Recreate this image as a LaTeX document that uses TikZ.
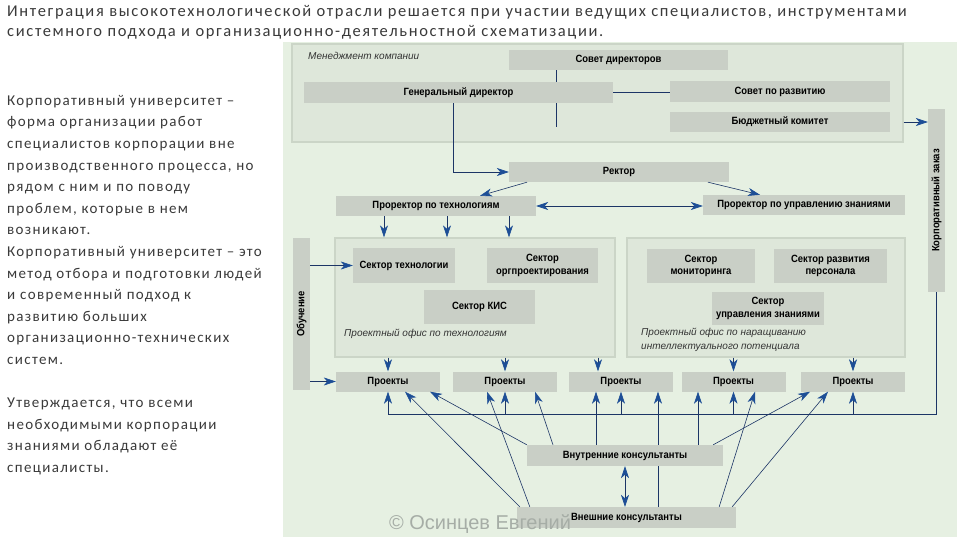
\documentclass[tikz,border=0pt]{standalone}
\usepackage{fontspec}
\setmainfont{Carlito}
\newfontfamily\txtfont[LetterSpace=9]{Carlito}
\newfontfamily\ttlfont[LetterSpace=10]{Carlito}
\newfontfamily\boxfont[FakeStretch=0.9]{Liberation Sans}
\newfontfamily\lblfont{Liberation Sans}
\newfontfamily\wmfont{Liberation Sans}
\usetikzlibrary{arrows.meta}
\definecolor{panel}{HTML}{E6F0E2}
\definecolor{boxg}{HTML}{C9CFC6}
\definecolor{offg}{HTML}{DEE7DA}
\definecolor{offline}{HTML}{CBD5C7}
\definecolor{linec}{HTML}{1C3566}
\definecolor{tipc}{HTML}{1D4E96}
\definecolor{labc}{HTML}{333333}
\definecolor{textc}{HTML}{3A3A3A}
\definecolor{wmc}{HTML}{A6ADA6}
\begin{document}
\begin{tikzpicture}[x=1pt,y=-1pt]
 \tikzstyle{b} = [fill=boxg, inner sep=0pt, align=center, font=\boxfont\bfseries\fontsize{10.5}{12.5}\selectfont]
    \tikzstyle{of} = [fill=offg, draw=offline, line width=1.2pt, inner sep=0pt]
    \tikzstyle{ln} = [draw=linec, line width=.6pt]
    \tikzstyle{arr} = [ln, -{Stealth[length=12pt,width=8pt,inset=3.5pt,color=tipc]}]
    \tikzstyle{darr} = [ln, {Stealth[length=12pt,width=8pt,inset=3.5pt,color=tipc]}-{Stealth[length=12pt,width=8pt,inset=3.5pt,color=tipc]}]
    \tikzstyle{lbl} = [inner sep=0pt, align=left, text=labc, font=\lblfont\itshape\fontsize{10}{13.5}\selectfont]
    %%
    \useasboundingbox (0,0) rectangle (960,540);
    \fill[white] (0,0) rectangle (960,540);
    \fill[panel] (283,42) rectangle (957,537);

    % text
        \node[anchor=north west, inner sep=0pt, align=left, text=textc, font=\ttlfont\fontsize{16.5}{20.5}\selectfont] (title) at (7,5)
        {Интеграция высокотехнологической отрасли решается при участии ведущих специалистов, инструментами\\
         системного подхода и организационно-деятельностной схематизации.};
        \node[anchor=north west, inner sep=0pt, align=left, text=textc, font=\txtfont\fontsize{15}{21.6}\selectfont] (txt) at (7,95)
        {Корпоративный университет –\\форма организации работ\\специалистов корпорации вне\\производственного процесса, но\\
         рядом с ним и по поводу\\проблем, которые в нем\\возникают.\\Корпоративный университет – это\\
         метод отбора и подготовки людей\\и современный подход к\\развитию больших\\организационно-технических\\систем.\\[21.6pt]
         Утверждается, что всеми\\необходимыми корпорации\\знаниями обладают её\\специалисты.};

    % management
        \node[of, minimum width=611, minimum height=98] (mk) at (597.5,93) {};
        \node[lbl, anchor=west] (mkl) at (308,56) {Менеджмент компании};
        \node[b, minimum width=219, minimum height=20] (sd) at (618.5,60) {Совет директоров};
        \node[b, minimum width=309, minimum height=21] (gd) at (458.5,92.5) {Генеральный директор};
        \node[b, minimum width=220, minimum height=21] (sr) at (780,91.5) {Совет по развитию};
        \node[b, minimum width=220, minimum height=20] (bk) at (780,122) {Бюджетный комитет};
        \coordinate (sdend) at (556,127);
        \draw[ln] ([xshift=-62.5]sd.south) -- ([xshift=-62.5]sd.south |- gd.north);
        \draw[ln] ([xshift=-62.5]sd.south |- gd.south) -- (sdend);
        \draw[ln] (gd.east) -- (gd.east -| sr.west);

    % rector
        \node[b, minimum width=220, minimum height=20] (rk) at (619,172) {Ректор};
        \node[b, minimum width=200, minimum height=20] (pt) at (436,206) {Проректор по технологиям};
        \node[b, minimum width=202, minimum height=20] (pz) at (804,205) {Проректор по управлению знаниями};
        \draw[arr] ([xshift=-5.5]gd.south) |- (rk.west);
        \draw[arr] ([xshift=-92]rk.south) -- ([xshift=44]pt.north);
        \draw[arr] ([xshift=89]rk.south) -- ([xshift=-44]pz.north);
        \draw[darr] (pt.east) -- (pt.east -| pz.west);

    % side bars
        \node[b, minimum width=17, minimum height=183] (kz) at (936.5,200.5) {\rotatebox{90}{Корпоративный заказ}};
        \node[b, minimum width=17, minimum height=152] (ob) at (301.5,314) {\rotatebox{90}{Обучение}};
        \draw[arr] (mk.east |- bk) -- (kz.west |- bk);

    % offices
        \node[of, minimum width=280, minimum height=119] (of1) at (475,297.5) {};
        \node[of, minimum width=278, minimum height=119] (of2) at (766,297.5) {};
        \node[b, minimum width=102, minimum height=35] (st) at (404,265.5) {Сектор технологии};
        \node[b, minimum width=111, minimum height=35] (so) at (542.5,265.5) {Сектор\\оргпроектирования};
        \node[b, minimum width=111, minimum height=34] (sk) at (479.5,307) {Сектор КИС};
        \node[lbl, anchor=west] (of1l) at (344,334) {Проектный офис по технологиям};
        \node[b, minimum width=108, minimum height=34] (sm) at (701,266) {Сектор\\мониторинга};
        \node[b, minimum width=113, minimum height=34] (sp) at (830.5,266) {Сектор развития\\персонала};
        \node[b, minimum width=112, minimum height=33] (su) at (768,308.5) {Сектор\\управления знаниями};
        \node[lbl, anchor=west] (of2l) at (641,340) {Проектный офис по наращиванию\\интеллектуального потенциала};
        \foreach \dx in {-52,11,73}
            \draw[arr] ([xshift=\dx]pt.south) -- ([xshift=\dx]pt.south |- of1.north);
        \draw[arr] (ob.east |- st) -- (st.west);

    % projects
        \foreach \x/\n in {388/p1,505/p2,621/p3,733.5/p4,853/p5}
            \node[b, minimum width=104, minimum height=20] (\n) at (\x,381.5) {Проекты};
        \draw[arr] (ob.east |- p1) -- (p1.west);
        \draw[arr] (of1.south -| p1) -- (p1.north);
        \draw[arr] (of1.south -| p2) -- (p2.north);
        \draw[arr] ([xshift=-23]p3.north |- of1.south) -- ([xshift=-23]p3.north);
        \draw[arr] (of2.south -| p4) -- (p4.north);
        \draw[arr] (of2.south -| p5) -- (p5.north);
        \coordinate (bus) at (388,414);
        \draw[ln] (kz.south) |- (bus);
        \foreach \i in {1,...,5}
            \draw[arr] (p\i.south |- bus) -- (p\i.south);

    % consultants
        \node[b, minimum width=196, minimum height=21] (vk) at (625,455.5) {Внутренние консультанты};
        \node[b, minimum width=219, minimum height=21] (ek) at (626.5,517.5) {Внешние консультанты};
        \draw[arr] (vk.north west) -- ([xshift=42]p1.south);
        \draw[arr] ([xshift=-72]vk.north) -- ([xshift=30]p2.south);
        \draw[arr] ([xshift=-29]vk.north) -- ([xshift=-29]vk.north |- p3.south);
        \draw[arr] ([xshift=73]vk.north) -- ([xshift=73]vk.north |- p4.south);
        \draw[arr] ([xshift=-10]vk.north east) -- ([xshift=-43]p5.south);
        \draw[arr] ([xshift=3]ek.north west) -- ([xshift=17]p1.south);
        \draw[arr] ([xshift=13]ek.north west) -- ([xshift=-18]p2.south);
        \draw[ln] ([xshift=31.5]ek.north) -- ([xshift=31.5]ek.north |- vk.south);
        \draw[arr] ([xshift=31.5]ek.north |- vk.north) -- ([xshift=31.5]ek.north |- p3.south);
        \draw[arr] ([xshift=-17]ek.north east) -- ([xshift=21.5]p4.south);
        \draw[arr] ([xshift=-4]ek.north east) -- ([xshift=-25]p5.south);
        \draw[darr] (vk.south) -- (vk.south |- ek.north);

        \node[text=wmc, inner sep=0pt, font=\wmfont\fontsize{20}{20}\selectfont] (wm) at (480,524) {© Осинцев Евгений};

    \end{tikzpicture}
\end{document}
